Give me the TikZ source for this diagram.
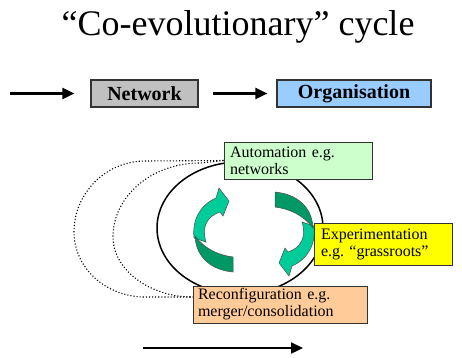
\documentclass[tikz,border=0pt]{standalone}
\usepackage{fontspec}
\setmainfont{Liberation Serif}
\usetikzlibrary{positioning, arrows.meta}
\frenchspacing

\begin{document}
\begin{tikzpicture}[x=1pt, y=-1pt,
box/.style={draw=black!80, line width=1.2pt, minimum height=27pt, inner sep=0pt, font=\fontsize{20}{20}\selectfont\bfseries},
note/.style={draw=black!80, line width=1pt, inner xsep=6pt, inner ysep=0pt, align=left, font=\fontsize{16}{17}\selectfont},
arrow/.style={line width=2.2pt, -{Triangle[length=12pt,width=11pt]}},
loop/.style={dotted, line width=1.1pt},
swirl/.style={draw=black!70, line width=0.5pt} ]

\useasboundingbox (0,0) rectangle (462,357);

% Define colors
\definecolor{netgray}{RGB}{192, 192, 192}
\definecolor{orgblue}{RGB}{153, 204, 255}
\definecolor{autogreen}{RGB}{204, 255, 204}
\definecolor{expyellow}{RGB}{255, 255, 0}
\definecolor{recpeach}{RGB}{255, 204, 153}
\definecolor{cyclelight}{RGB}{0, 204, 153}
\definecolor{cycledark}{RGB}{0, 153, 102}

% Title
\node[anchor=base, font=\fontsize{36}{36}\selectfont] (title) at (238,35) {“Co-evolutionary” cycle};

% Cycle ring
\draw[line width=1.5pt] (240,228) ellipse [x radius=83, y radius=66];

% Green arrows
\foreach \ang in {0,180} {
\begin{scope}[rotate around={\ang:(254,232)}]
\fill[cyclelight, swirl] (194,238) .. controls (192,220) and (200,205) .. (216,198) -- (219,188) -- (229,201) -- (223,216) -- (220,212) .. controls (208,216) and (201,226) .. (206,242) -- cycle;
\fill[cycledark, swirl] (195,236) .. controls (205,249) and (218,255) .. (233,257) -- (233,272) .. controls (212,270) and (196,258) .. (195,236) -- cycle;
\end{scope}
}

% Nodes
\node[box, fill=netgray, minimum width=107pt] (network) at (144.5,93.5) {Network};
\node[box, fill=orgblue, minimum width=154pt] (org) at (354,93.5) {Organisation};
\node[note, fill=autogreen, text width=136pt, minimum height=37pt] (auto) at (298,160.5) {Automation e.g.\\networks};
\node[note, fill=expyellow, text width=124pt, inner xsep=7pt, minimum height=42pt] (exper) at (383,244) {Experimentation\\e.g. “grassroots”};
\node[note, fill=recpeach, text width=164pt, inner xsep=5pt, minimum height=37pt] (recon) at (280,304.5) {Reconfiguration e.g.\\merger/consolidation};

\coordinate (entry) at (10,93.5);
\coordinate (flowa) at (143,348);
\coordinate (flowb) at (303,348);

% Arrows
\draw[arrow] (entry) -- ([xshift=-16pt]network.west);
\draw[arrow, shorten <=14pt, shorten >=9pt] (network) -- (org);
\draw[arrow] (flowa) -- (flowb);

% Dotted loops
\draw[loop] (auto.west) -- (145,161) .. controls (106,161) and (74,193) .. (74,232) .. controls (74,268) and (106,297) .. (145,297) -- ([yshift=7.5pt]recon.west);
\draw[loop] (auto.west) -- (200,163) .. controls (152,163) and (113,196) .. (113,237) .. controls (113,270) and (150,297) .. ([yshift=7.5pt]recon.west);

\end{tikzpicture}
\end{document}
